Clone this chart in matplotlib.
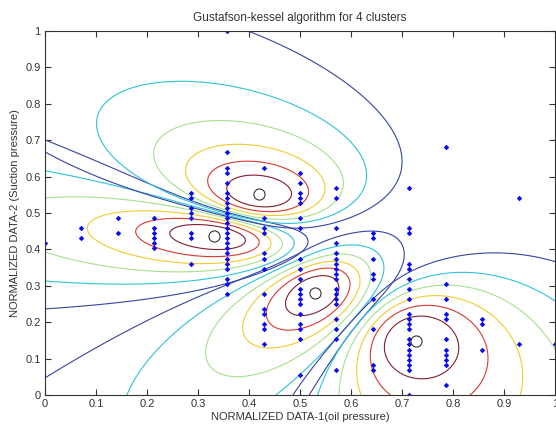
import numpy as np
import matplotlib
matplotlib.use("Agg")
import matplotlib.pyplot as plt

plt.rcParams['font.family'] = ['Liberation Sans', 'DejaVu Sans']

# ---- data points (x = k/14 columns, y values) ----
col_x = [0.0, 1/14, 2/14, 3/14, 4/14, 5/14, 6/14, 7/14, 8/14, 9/14, 10/14, 11/14, 12/14, 13/14, 1.0]
col_y = [
    [0.417],
    [0.458, 0.431],
    [0.486, 0.444],
    [0.486, 0.458, 0.444, 0.431, 0.417, 0.403],
    [0.556, 0.542, 0.514, 0.500, 0.486, 0.444, 0.431, 0.361],
    [1.000, 0.667, 0.625, 0.611, 0.583, 0.556, 0.542, 0.528, 0.514, 0.500, 0.486, 0.472, 0.458,
     0.444, 0.431, 0.417, 0.403, 0.389, 0.375, 0.361, 0.347, 0.319, 0.306, 0.278],
    [0.625, 0.486, 0.458, 0.444, 0.389, 0.375, 0.347, 0.278, 0.236, 0.222, 0.194, 0.181, 0.139],
    [0.611, 0.583, 0.556, 0.542, 0.528, 0.486, 0.458, 0.375, 0.347, 0.319, 0.292, 0.278, 0.264,
     0.250, 0.222, 0.194, 0.181, 0.153, 0.056],
    [0.569, 0.542, 0.458, 0.417, 0.389, 0.375, 0.361, 0.347, 0.333, 0.319, 0.292, 0.278, 0.264,
     0.250, 0.208, 0.181, 0.153, 0.069],
    [0.444, 0.431, 0.375, 0.333, 0.319, 0.264, 0.181, 0.083, 0.069],
    [0.569, 0.458, 0.444, 0.361, 0.347, 0.319, 0.292, 0.264, 0.222, 0.208, 0.194, 0.181, 0.153,
     0.139, 0.125, 0.111, 0.097, 0.083, 0.069, 0.000],
    [0.681, 0.306, 0.264, 0.222, 0.208, 0.153, 0.125, 0.111, 0.097, 0.083, 0.028],
    [0.208, 0.194, 0.125],
    [0.542, 0.139],
    [0.139],
]

# ---- cluster centres and shape parameters ----
center_x = [0.331, 0.420, 0.529, 0.727]
center_y = [0.436, 0.551, 0.280, 0.148]
axis_a = [0.072, 0.058, 0.060, 0.055]     # major-axis spread
axis_b = [0.033, 0.038, 0.042, 0.048]     # minor-axis spread
angle_deg = [-10, -10, 50, 90]

levels = [0.4, 0.5, 0.6, 0.7, 0.8, 0.9]
level_colors = ['#3445a5', '#2fc3d6', '#a5e08e', '#f0cc2e', '#d8392f', '#7e1f2f']

# ---- membership field (GK-style, m = 2) ----
gx = np.linspace(0, 1, 301)
gy = np.linspace(0, 1, 301)
X, Y = np.meshgrid(gx, gy)
inv_d2 = []
for cx, cy, a, b, ang in zip(center_x, center_y, axis_a, axis_b, angle_deg):
    t = np.deg2rad(ang)
    R = np.array([[np.cos(t), -np.sin(t)], [np.sin(t), np.cos(t)]])
    F = R @ np.diag([a**2, b**2]) @ R.T
    A = np.linalg.inv(F)
    dx, dy = X - cx, Y - cy
    d2 = A[0, 0]*dx*dx + 2*A[0, 1]*dx*dy + A[1, 1]*dy*dy
    inv_d2.append(1.0/np.maximum(d2, 1e-12))
tot = sum(inv_d2)
U = [v/tot for v in inv_d2]

fig = plt.figure(figsize=(5.56, 4.26), dpi=100)
ax = fig.add_axes([45/556, 1 - 395/426, 510/556, 364/426])

for u in U:
    ax.contour(X, Y, u, levels=levels, colors=level_colors, linewidths=0.8)

px, py = [], []
for x, ys in zip(col_x, col_y):
    for y in ys:
        px.append(x)
        py.append(y)
ax.plot(px, py, linestyle='none', marker='D', markersize=2.8, color='#0a0af0',
        markeredgewidth=0)
ax.plot(center_x, center_y, linestyle='none', marker='o', markersize=8,
        markerfacecolor='none', markeredgecolor='#333333', markeredgewidth=0.8)

ax.set_xlim(0, 1)
ax.set_ylim(0, 1)
ticks = np.round(np.arange(0, 1.01, 0.1), 1)
labels = ['0'] + [f'{t:g}' for t in ticks[1:-1]] + ['1']
ax.set_xticks(ticks)
ax.set_xticklabels(labels)
ax.set_yticks(ticks)
ax.set_yticklabels(labels)
ax.tick_params(direction='in', length=4, width=0.8, top=True, right=True,
               labelsize=8, colors='#333333', pad=3)
for s in ax.spines.values():
    s.set_color('#333333')
    s.set_linewidth(0.8)
ax.set_title('Gustafson-kessel algorithm for 4 clusters', fontsize=8.5, color='#333333', pad=7)
ax.set_xlabel('NORMALIZED DATA-1(oil pressure)', fontsize=8, color='#333333', labelpad=2)
ax.set_ylabel('NORMALIZED DATA-2 (Suction pressure)', fontsize=8, color='#333333', labelpad=4)

fig.savefig('out.png', dpi=100)
